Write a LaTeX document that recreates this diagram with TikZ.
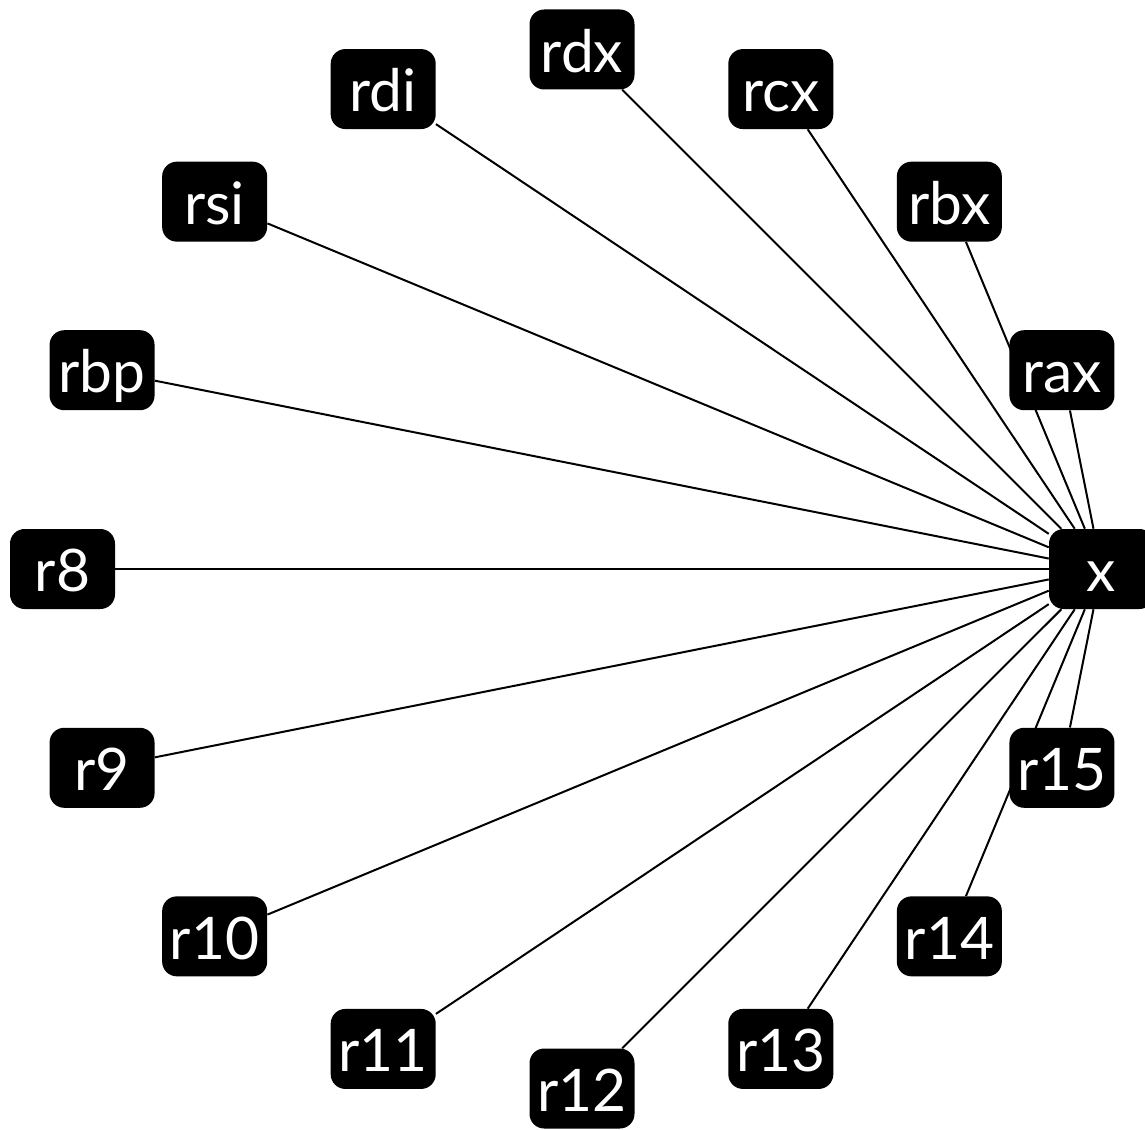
\documentclass[tikz,border=0pt]{standalone}
\usepackage{fontspec}
\setmainfont{Lato}
\usetikzlibrary{backgrounds}
\begin{document}
\begin{tikzpicture}[x=0.75pt,y=-0.75pt,
  reg/.style={fill=black,text=white,rounded corners=11pt,minimum width=78.75pt,
    minimum height=60pt,inner sep=3pt,text height=44pt,text depth=10pt,
    font=\fontsize{44}{48}\selectfont},
  link/.style={line width=1.5pt,draw=black}]
\useasboundingbox (0,0) rectangle (1145,1130);
\foreach \n/\i in {x/0,rax/1,rbx/2,rcx/3,rdx/4,rdi/5,rsi/6,rbp/7,r8/8,r9/9,r10/10,r11/11,r12/12,r13/13,r14/14,r15/15}
  \node[reg] (\n) at ({582+519.5*cos(22.5*\i)},{569-519.5*sin(22.5*\i)}) {\n};
\begin{scope}[on background layer]
\foreach \n in {rax,rbx,rcx,rdx,rdi,rsi,rbp,r8,r9,r10,r11,r12,r13,r14,r15}
  \draw[link] (x) -- (\n);
\end{scope}
\end{tikzpicture}
\end{document}
